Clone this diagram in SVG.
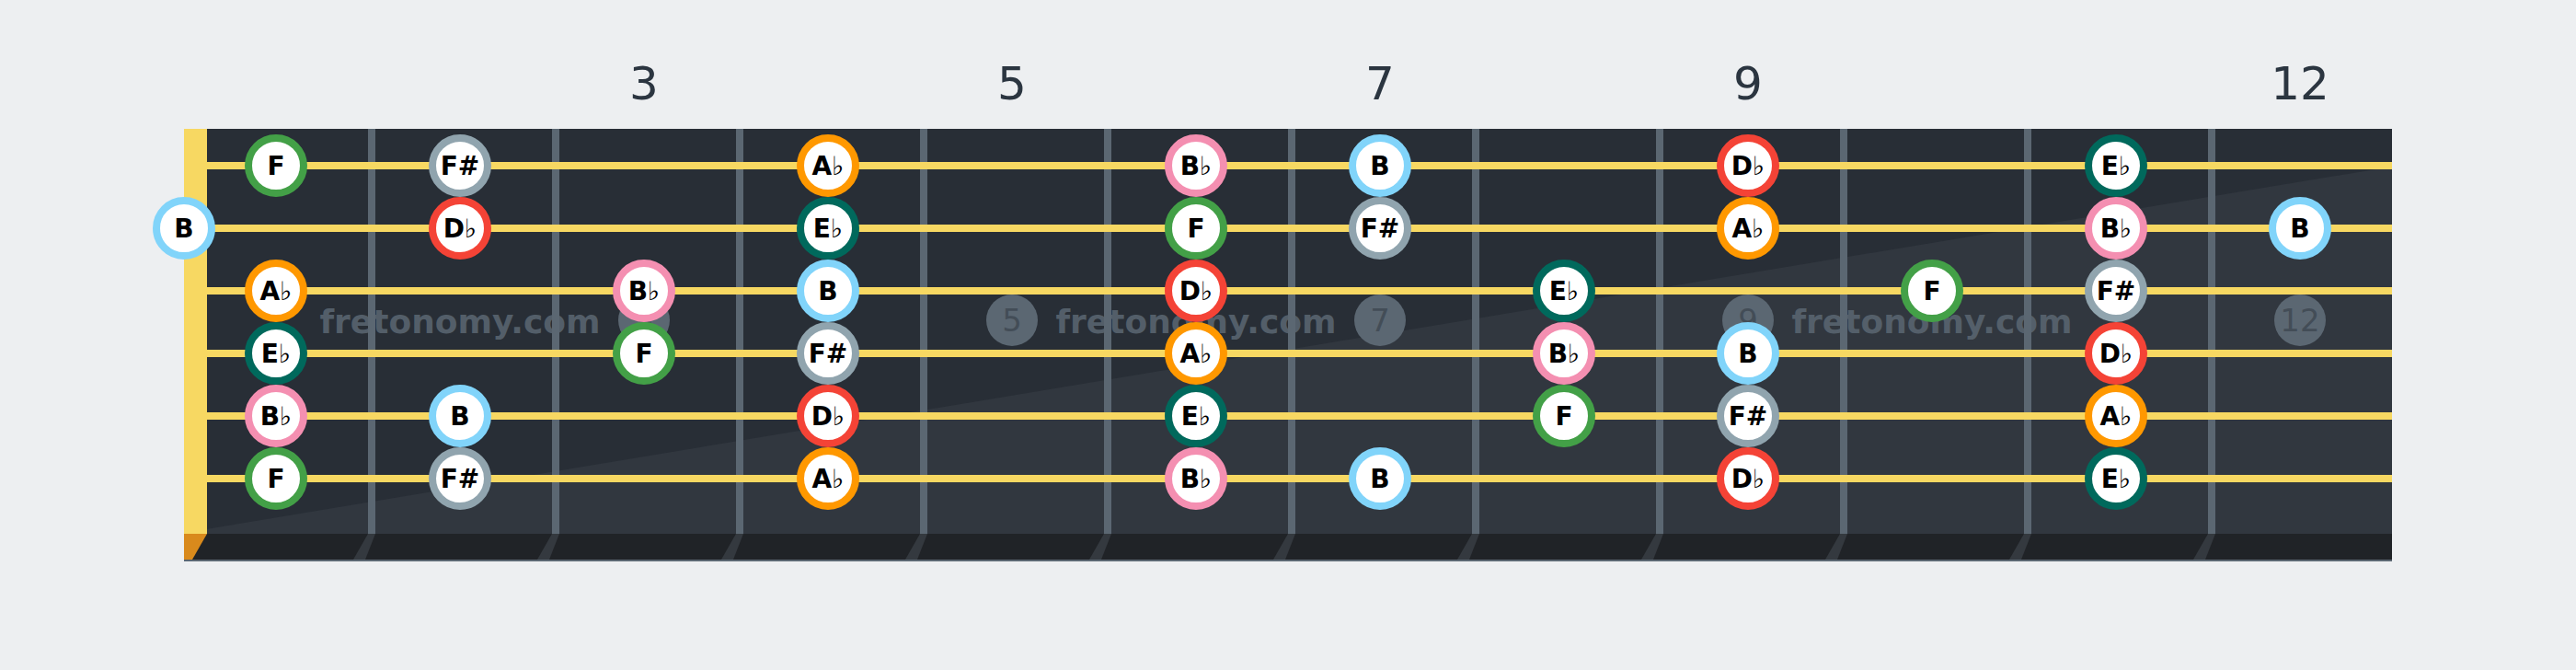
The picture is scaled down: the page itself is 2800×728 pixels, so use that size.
<svg xmlns="http://www.w3.org/2000/svg" width="2800" height="728" viewBox="0 0 2800 728">
<defs>
<style>
.num{font-family:"DejaVu Sans",sans-serif;font-size:50px;fill:#2b3540;text-anchor:middle}
.inl{font-family:"DejaVu Sans",sans-serif;font-size:34px;fill:#434d57;text-anchor:middle}
.wm{font-family:"DejaVu Sans",sans-serif;font-weight:bold;font-size:36px;fill:#5b6772;opacity:0.85;text-anchor:middle}
.fret{fill:#5b6772}
.fext{fill:#34393f}
.str{stroke:#f7d862;stroke-width:8}
.note circle{fill:#ffffff;stroke-width:8}
.note text{font-family:"DejaVu Sans",sans-serif;font-weight:bold;font-size:28px;fill:#000;text-anchor:middle}
.fl{font-weight:normal}
.F circle{stroke:#43a047}
.Fs circle{stroke:#90a4ae}
.B circle{stroke:#81d4fa}
.Db circle{stroke:#f44336}
.Ab circle{stroke:#ff9800}
.Bb circle{stroke:#f48fb1}
.Eb circle{stroke:#00695c}
</style>
</defs>
<rect width="2800" height="728" fill="#edeff1"/>
<g id="board">
<rect x="200" y="140" width="2400" height="440" fill="#282e36"/>
<polygon points="200,580 200,579 2600,181 2600,580" fill="#31373f"/>
<rect x="200" y="580" width="2400" height="28" fill="#202327"/>
<rect x="200" y="608" width="2400" height="2" fill="#5b6772"/>
<rect x="200" y="140" width="25" height="440" fill="#f7d862"/>
<polygon points="200,580 225,580 209,608 200,608" fill="#d98a1c"/>
</g>
<g id="frets">
<rect class="fret" x="400" y="140" width="8" height="440"/>
<rect class="fret" x="600" y="140" width="8" height="440"/>
<rect class="fret" x="800" y="140" width="8" height="440"/>
<rect class="fret" x="1000" y="140" width="8" height="440"/>
<rect class="fret" x="1200" y="140" width="8" height="440"/>
<rect class="fret" x="1400" y="140" width="8" height="440"/>
<rect class="fret" x="1600" y="140" width="8" height="440"/>
<rect class="fret" x="1800" y="140" width="8" height="440"/>
<rect class="fret" x="2000" y="140" width="8" height="440"/>
<rect class="fret" x="2200" y="140" width="8" height="440"/>
<rect class="fret" x="2400" y="140" width="8" height="440"/>
<polygon class="fext" points="400,580 408,580 397,608 384,608"/>
<polygon class="fext" points="600,580 608,580 597,608 584,608"/>
<polygon class="fext" points="800,580 808,580 797,608 784,608"/>
<polygon class="fext" points="1000,580 1008,580 997,608 984,608"/>
<polygon class="fext" points="1200,580 1208,580 1197,608 1184,608"/>
<polygon class="fext" points="1400,580 1408,580 1397,608 1384,608"/>
<polygon class="fext" points="1600,580 1608,580 1597,608 1584,608"/>
<polygon class="fext" points="1800,580 1808,580 1797,608 1784,608"/>
<polygon class="fext" points="2000,580 2008,580 1997,608 1984,608"/>
<polygon class="fext" points="2200,580 2208,580 2197,608 2184,608"/>
<polygon class="fext" points="2400,580 2408,580 2397,608 2384,608"/>
</g>
<g id="fret-numbers">
<text class="num" x="700" y="108">3</text>
<text class="num" x="1100" y="108">5</text>
<text class="num" x="1500" y="108">7</text>
<text class="num" x="1900" y="108">9</text>
<text class="num" x="2500" y="108">12</text>
</g>
<g id="inlays">
<circle cx="700" cy="348" r="28" fill="#5b6772"/><text class="inl" x="700" y="360">3</text>
<circle cx="1100" cy="348" r="28" fill="#5b6772"/><text class="inl" x="1100" y="360">5</text>
<circle cx="1500" cy="348" r="28" fill="#5b6772"/><text class="inl" x="1500" y="360">7</text>
<circle cx="1900" cy="348" r="28" fill="#5b6772"/><text class="inl" x="1900" y="360">9</text>
<circle cx="2500" cy="348" r="28" fill="#5b6772"/><text class="inl" x="2500" y="360">12</text>
</g>
<g id="watermark">
<text class="wm" x="500" y="362">fretonomy.com</text>
<text class="wm" x="1300" y="362">fretonomy.com</text>
<text class="wm" x="2100" y="362">fretonomy.com</text>
</g>
<g id="strings">
<line class="str" x1="225" y1="180" x2="2600" y2="180"/>
<line class="str" x1="225" y1="248" x2="2600" y2="248"/>
<line class="str" x1="225" y1="316" x2="2600" y2="316"/>
<line class="str" x1="225" y1="384" x2="2600" y2="384"/>
<line class="str" x1="225" y1="452" x2="2600" y2="452"/>
<line class="str" x1="225" y1="520" x2="2600" y2="520"/>
</g>
<g id="notes">
<!-- string 1 -->
<g id="n1-1" class="note F"><circle cx="300" cy="180" r="30"/><text x="300" y="190">F</text></g>
<g id="n1-2" class="note Fs"><circle cx="500" cy="180" r="30"/><text x="500" y="190">F#</text></g>
<g id="n1-4" class="note Ab"><circle cx="900" cy="180" r="30"/><text x="900" y="190">A<tspan class="fl">♭</tspan></text></g>
<g id="n1-6" class="note Bb"><circle cx="1300" cy="180" r="30"/><text x="1300" y="190">B<tspan class="fl">♭</tspan></text></g>
<g id="n1-7" class="note B"><circle cx="1500" cy="180" r="30"/><text x="1500" y="190">B</text></g>
<g id="n1-9" class="note Db"><circle cx="1900" cy="180" r="30"/><text x="1900" y="190">D<tspan class="fl">♭</tspan></text></g>
<g id="n1-11" class="note Eb"><circle cx="2300" cy="180" r="30"/><text x="2300" y="190">E<tspan class="fl">♭</tspan></text></g>
<!-- string 2 -->
<g id="n2-0" class="note B"><circle cx="200" cy="248" r="30"/><text x="200" y="258">B</text></g>
<g id="n2-2" class="note Db"><circle cx="500" cy="248" r="30"/><text x="500" y="258">D<tspan class="fl">♭</tspan></text></g>
<g id="n2-4" class="note Eb"><circle cx="900" cy="248" r="30"/><text x="900" y="258">E<tspan class="fl">♭</tspan></text></g>
<g id="n2-6" class="note F"><circle cx="1300" cy="248" r="30"/><text x="1300" y="258">F</text></g>
<g id="n2-7" class="note Fs"><circle cx="1500" cy="248" r="30"/><text x="1500" y="258">F#</text></g>
<g id="n2-9" class="note Ab"><circle cx="1900" cy="248" r="30"/><text x="1900" y="258">A<tspan class="fl">♭</tspan></text></g>
<g id="n2-11" class="note Bb"><circle cx="2300" cy="248" r="30"/><text x="2300" y="258">B<tspan class="fl">♭</tspan></text></g>
<g id="n2-12" class="note B"><circle cx="2500" cy="248" r="30"/><text x="2500" y="258">B</text></g>
<!-- string 3 -->
<g id="n3-1" class="note Ab"><circle cx="300" cy="316" r="30"/><text x="300" y="326">A<tspan class="fl">♭</tspan></text></g>
<g id="n3-3" class="note Bb"><circle cx="700" cy="316" r="30"/><text x="700" y="326">B<tspan class="fl">♭</tspan></text></g>
<g id="n3-4" class="note B"><circle cx="900" cy="316" r="30"/><text x="900" y="326">B</text></g>
<g id="n3-6" class="note Db"><circle cx="1300" cy="316" r="30"/><text x="1300" y="326">D<tspan class="fl">♭</tspan></text></g>
<g id="n3-8" class="note Eb"><circle cx="1700" cy="316" r="30"/><text x="1700" y="326">E<tspan class="fl">♭</tspan></text></g>
<g id="n3-10" class="note F"><circle cx="2100" cy="316" r="30"/><text x="2100" y="326">F</text></g>
<g id="n3-11" class="note Fs"><circle cx="2300" cy="316" r="30"/><text x="2300" y="326">F#</text></g>
<!-- string 4 -->
<g id="n4-1" class="note Eb"><circle cx="300" cy="384" r="30"/><text x="300" y="394">E<tspan class="fl">♭</tspan></text></g>
<g id="n4-3" class="note F"><circle cx="700" cy="384" r="30"/><text x="700" y="394">F</text></g>
<g id="n4-4" class="note Fs"><circle cx="900" cy="384" r="30"/><text x="900" y="394">F#</text></g>
<g id="n4-6" class="note Ab"><circle cx="1300" cy="384" r="30"/><text x="1300" y="394">A<tspan class="fl">♭</tspan></text></g>
<g id="n4-8" class="note Bb"><circle cx="1700" cy="384" r="30"/><text x="1700" y="394">B<tspan class="fl">♭</tspan></text></g>
<g id="n4-9" class="note B"><circle cx="1900" cy="384" r="30"/><text x="1900" y="394">B</text></g>
<g id="n4-11" class="note Db"><circle cx="2300" cy="384" r="30"/><text x="2300" y="394">D<tspan class="fl">♭</tspan></text></g>
<!-- string 5 -->
<g id="n5-1" class="note Bb"><circle cx="300" cy="452" r="30"/><text x="300" y="462">B<tspan class="fl">♭</tspan></text></g>
<g id="n5-2" class="note B"><circle cx="500" cy="452" r="30"/><text x="500" y="462">B</text></g>
<g id="n5-4" class="note Db"><circle cx="900" cy="452" r="30"/><text x="900" y="462">D<tspan class="fl">♭</tspan></text></g>
<g id="n5-6" class="note Eb"><circle cx="1300" cy="452" r="30"/><text x="1300" y="462">E<tspan class="fl">♭</tspan></text></g>
<g id="n5-8" class="note F"><circle cx="1700" cy="452" r="30"/><text x="1700" y="462">F</text></g>
<g id="n5-9" class="note Fs"><circle cx="1900" cy="452" r="30"/><text x="1900" y="462">F#</text></g>
<g id="n5-11" class="note Ab"><circle cx="2300" cy="452" r="30"/><text x="2300" y="462">A<tspan class="fl">♭</tspan></text></g>
<!-- string 6 -->
<g id="n6-1" class="note F"><circle cx="300" cy="520" r="30"/><text x="300" y="530">F</text></g>
<g id="n6-2" class="note Fs"><circle cx="500" cy="520" r="30"/><text x="500" y="530">F#</text></g>
<g id="n6-4" class="note Ab"><circle cx="900" cy="520" r="30"/><text x="900" y="530">A<tspan class="fl">♭</tspan></text></g>
<g id="n6-6" class="note Bb"><circle cx="1300" cy="520" r="30"/><text x="1300" y="530">B<tspan class="fl">♭</tspan></text></g>
<g id="n6-7" class="note B"><circle cx="1500" cy="520" r="30"/><text x="1500" y="530">B</text></g>
<g id="n6-9" class="note Db"><circle cx="1900" cy="520" r="30"/><text x="1900" y="530">D<tspan class="fl">♭</tspan></text></g>
<g id="n6-11" class="note Eb"><circle cx="2300" cy="520" r="30"/><text x="2300" y="530">E<tspan class="fl">♭</tspan></text></g>
</g>
</svg>
